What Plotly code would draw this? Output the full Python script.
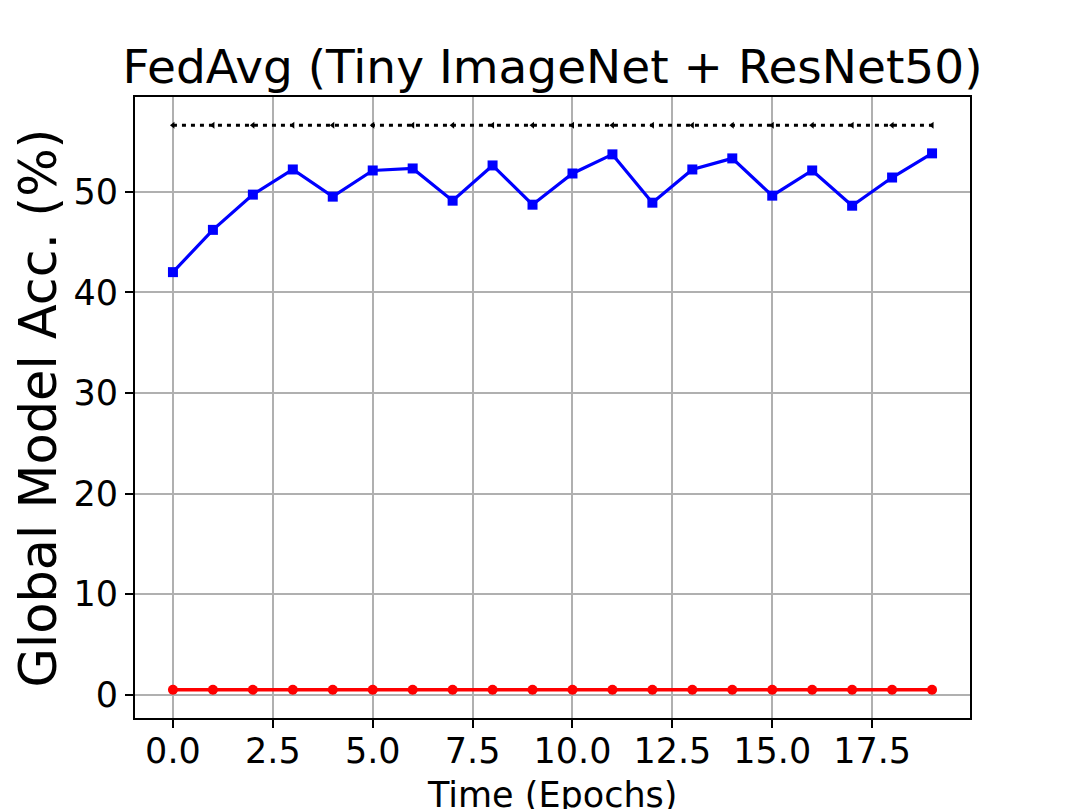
import plotly.graph_objects as go

epochs = list(range(20))
fedavg_acc = [42.0, 46.2, 49.7, 52.2, 49.5, 52.1, 52.3, 49.1, 52.6, 48.7,
              51.8, 53.7, 48.9, 52.2, 53.3, 49.6, 52.1, 48.6, 51.4, 53.8]
upper_acc = [56.6] * 20
lower_acc = [0.5] * 20
x_ticks = [0, 2.5, 5, 7.5, 10, 12.5, 15, 17.5]
y_ticks = [0, 10, 20, 30, 40, 50]

FONT = "DejaVu Sans"

fig = go.Figure()
fig.add_trace(go.Scatter(
    x=epochs, y=upper_acc, mode="lines+markers",
    line=dict(color="black", width=3, dash="4px,5px"),
    marker=dict(symbol="triangle-left", size=6, color="black"),
    showlegend=False))
fig.add_trace(go.Scatter(
    x=epochs, y=fedavg_acc, mode="lines+markers",
    line=dict(color="blue", width=3.2),
    marker=dict(symbol="square", size=10, color="blue"),
    showlegend=False))
fig.add_trace(go.Scatter(
    x=epochs, y=lower_acc, mode="lines+markers",
    line=dict(color="red", width=3.5),
    marker=dict(symbol="circle", size=10, color="red"),
    showlegend=False))

axis_common = dict(
    showline=True, linecolor="black", linewidth=2, mirror=True,
    showgrid=True, gridcolor="#b0b0b0", gridwidth=1.8,
    zeroline=False, ticks="outside", ticklen=8, tickwidth=2, tickcolor="black",
    tickfont=dict(family=FONT, size=35, color="black"),
)

fig.update_xaxes(range=[-0.95, 19.95], tickvals=x_ticks,
                 ticktext=[f"{v:.1f}" for v in x_ticks],
                 ticklabelstandoff=-7, **axis_common)
fig.update_yaxes(range=[-2.3, 59.4], tickvals=y_ticks,
                 ticktext=[str(v) for v in y_ticks], **axis_common)

fig.update_layout(
    width=1079, height=809,
    margin=dict(l=135, r=109, t=97, b=91),
    paper_bgcolor="white", plot_bgcolor="white",
    font=dict(family=FONT, color="black"),
    title=dict(text="FedAvg (Tiny ImageNet + ResNet50)",
               font=dict(family=FONT, size=47, color="black"),
               x=(135 + 970) / 2 / 1079, xanchor="center",
               y=1 - 67 / 809, yanchor="middle", yref="container"),
    annotations=[
        dict(text="Global Model Acc. (%)", xref="paper", yref="paper",
             x=-0.115, y=0.5, xanchor="center", yanchor="middle",
             textangle=-90, showarrow=False,
             font=dict(family=FONT, size=51, color="black")),
        dict(text="Time (Epochs)", xref="paper", yref="paper",
             x=0.5, y=-0.088, xanchor="center", yanchor="top",
             showarrow=False,
             font=dict(family=FONT, size=35, color="black")),
    ],
)

fig.write_html("out.html", config={"displayModeBar": False},
               post_script="document.body.style.margin='0';")
